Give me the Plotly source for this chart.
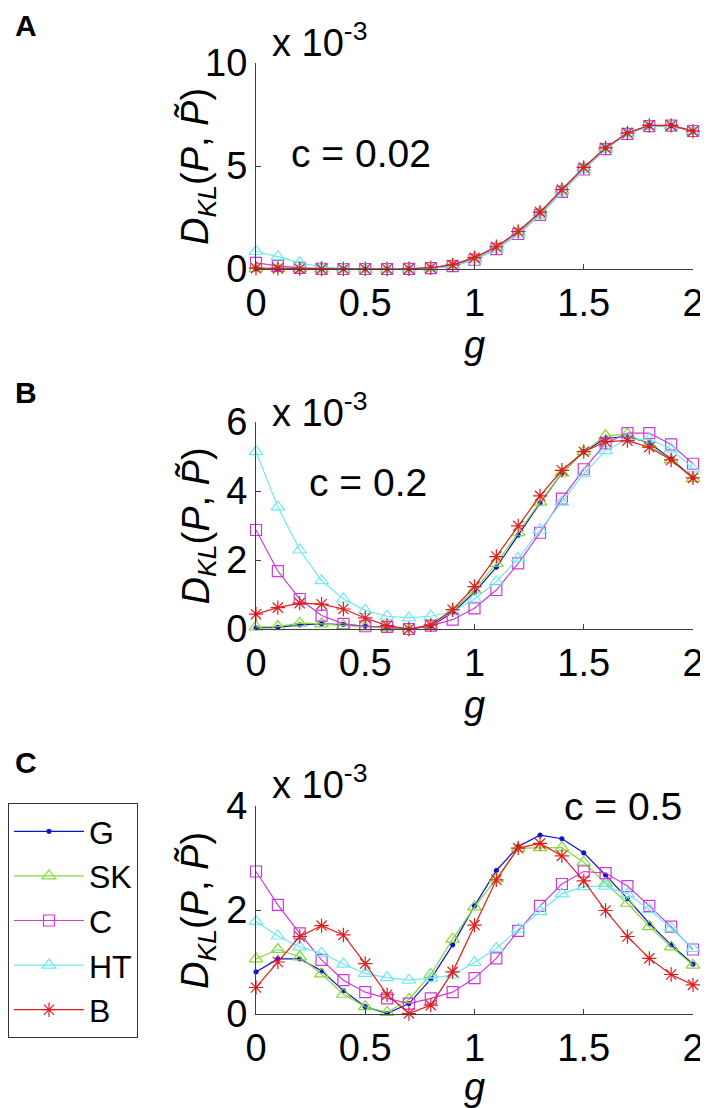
import plotly.graph_objects as go

# page is rendered with an 8px body margin, so the figure is offset by 8px
OFF = 8
W, H = 700, 1100
g = [round(0.1 * i, 1) for i in range(21)]

# Panel A (c = 0.02), values in units of 1e-3
A_G  = [0.02, 0.02, 0.01, 0.0, 0.0, 0.0, 0.0, 0.01, 0.06, 0.2, 0.54, 1.06, 1.8, 2.74, 3.85, 4.92, 5.88, 6.6, 6.96, 6.96, 6.69]
A_SK = [0.02, 0.02, 0.01, 0.0, 0.0, 0.0, 0.0, 0.01, 0.06, 0.2, 0.54, 1.06, 1.8, 2.74, 3.85, 4.92, 5.88, 6.6, 6.96, 6.96, 6.69]
A_C  = [0.3, 0.15, 0.05, 0.01, 0.0, 0.0, 0.0, 0.01, 0.04, 0.14, 0.45, 0.96, 1.7, 2.63, 3.74, 4.83, 5.82, 6.56, 6.94, 6.96, 6.7]
A_HT = [0.85, 0.6, 0.3, 0.1, 0.03, 0.01, 0.0, 0.01, 0.04, 0.14, 0.45, 0.96, 1.7, 2.63, 3.74, 4.83, 5.82, 6.56, 6.94, 6.96, 6.7]
A_B  = [0.04, 0.03, 0.01, 0.0, 0.0, 0.0, 0.0, 0.01, 0.06, 0.2, 0.55, 1.08, 1.82, 2.76, 3.86, 4.93, 5.88, 6.6, 6.97, 6.97, 6.69]

# Panel B (c = 0.2)
B_G  = [0.03, 0.05, 0.12, 0.15, 0.13, 0.08, 0.03, 0.0, 0.08, 0.48, 1.06, 1.79, 2.72, 3.65, 4.52, 5.14, 5.53, 5.58, 5.39, 4.93, 4.38]
B_SK = [0.06, 0.07, 0.17, 0.15, 0.1, 0.06, 0.03, 0.0, 0.1, 0.52, 1.13, 1.9, 2.79, 3.68, 4.52, 5.14, 5.6, 5.65, 5.35, 4.9, 4.36]
B_C  = [2.87, 1.68, 0.87, 0.39, 0.15, 0.08, 0.06, 0.0, 0.1, 0.27, 0.6, 1.13, 1.9, 2.79, 3.78, 4.63, 5.38, 5.68, 5.68, 5.35, 4.79]
B_HT = [5.14, 3.54, 2.29, 1.4, 0.87, 0.54, 0.37, 0.32, 0.37, 0.5, 0.87, 1.37, 2.05, 2.87, 3.68, 4.5, 5.17, 5.5, 5.5, 5.22, 4.64]
B_B  = [0.43, 0.62, 0.75, 0.72, 0.58, 0.32, 0.1, 0.0, 0.12, 0.56, 1.23, 2.1, 2.99, 3.86, 4.6, 5.14, 5.43, 5.46, 5.27, 4.9, 4.38]

# Panel C (c = 0.5)
C_G  = [0.81, 1.06, 1.06, 0.83, 0.45, 0.14, 0.01, 0.2, 0.67, 1.33, 2.08, 2.76, 3.22, 3.44, 3.37, 3.1, 2.67, 2.22, 1.74, 1.33, 0.96]
C_SK = [1.06, 1.24, 1.1, 0.77, 0.38, 0.14, 0.03, 0.28, 0.76, 1.44, 2.06, 2.6, 3.19, 3.2, 3.2, 2.92, 2.51, 2.13, 1.68, 1.29, 0.94]
C_C  = [2.74, 2.1, 1.55, 1.04, 0.65, 0.42, 0.3, 0.2, 0.3, 0.42, 0.69, 1.07, 1.6, 2.08, 2.5, 2.74, 2.71, 2.46, 2.08, 1.68, 1.24]
C_HT = [1.78, 1.5, 1.29, 1.17, 0.96, 0.78, 0.7, 0.65, 0.69, 0.75, 0.99, 1.26, 1.63, 1.97, 2.31, 2.45, 2.46, 2.31, 2.01, 1.65, 1.26]
C_B  = [0.51, 1.0, 1.49, 1.7, 1.52, 0.97, 0.37, 0.01, 0.17, 0.81, 1.71, 2.58, 3.19, 3.28, 3.04, 2.56, 1.99, 1.49, 1.07, 0.76, 0.56]

names = ["G", "SK", "C", "HT", "B"]
colors = ["#0b14cc", "#86d83a", "#cc3ad8", "#70e8f0", "#e01e1e"]
symbols = ["circle", "triangle-up-open", "square-open", "triangle-up-open", "asterisk-open"]
msizes = [4, 12, 11, 12, 12]

panels = [
    (A_G, A_SK, A_C, A_HT, A_B),
    (B_G, B_SK, B_C, B_HT, B_B),
    (C_G, C_SK, C_C, C_HT, C_B),
]
yranges = [[0, 10], [0, 6], [0, 4]]
ytickvals = [[0, 5, 10], [0, 2, 4, 6], [0, 2, 4]]
# axes boxes in page pixels (top, bottom)
boxes = [(63, 269), (422, 629), (806, 1014)]
xl, xr = 256, 693

def px(x):
    return (x - OFF) / W

def py(y):
    return 1 - (y - OFF) / H

FONT = "Liberation Sans, Arial, sans-serif"
FS = 38

fig = go.Figure()

for p, series in enumerate(panels):
    xa = "x" if p == 0 else f"x{p+1}"
    ya = "y" if p == 0 else f"y{p+1}"
    for i, vals in enumerate(series):
        fig.add_trace(go.Scatter(
            x=g, y=vals, mode="lines+markers", name=names[i],
            xaxis=xa, yaxis=ya,
            line=dict(color=colors[i], width=1.2),
            marker=dict(symbol=symbols[i], size=msizes[i], color=colors[i],
                        line=dict(color=colors[i], width=1.2)),
            cliponaxis=False,
            showlegend=(p == 2),
        ))

ytitle = "<i>D</i><sub><i>KL</i></sub>(<i>P</i>, <i>P\u0303</i>)"
axis_common = dict(
    showgrid=False, zeroline=False, showline=True, linecolor="#404040", linewidth=1,
    ticks="inside", ticklen=5, tickcolor="#404040", mirror=False, automargin=False,
    tickfont=dict(family=FONT, size=FS, color="black"),
)
layout = dict(
    width=W, height=H, margin=dict(l=0, r=0, t=0, b=0, autoexpand=False),
    paper_bgcolor="white", plot_bgcolor="white",
    font=dict(family=FONT, size=FS, color="black"),
    showlegend=True,
    legend=dict(x=px(8), y=py(803), xanchor="left", yanchor="top",
                bordercolor="#333333", borderwidth=1, bgcolor="white",
                font=dict(family=FONT, size=32), tracegroupgap=0,
                itemwidth=70, entrywidth=145, entrywidthmode="pixels"),
)
for p in range(3):
    top, bot = boxes[p]
    xk = "xaxis" if p == 0 else f"xaxis{p+1}"
    yk = "yaxis" if p == 0 else f"yaxis{p+1}"
    ya = "y" if p == 0 else f"y{p+1}"
    xa = "x" if p == 0 else f"x{p+1}"
    layout[xk] = dict(axis_common, domain=[px(xl), px(xr)], range=[0, 2], anchor=ya,
                      tickvals=[0, 0.5, 1, 1.5, 2], ticktext=["0", "0.5", "1", "1.5", "2"],
                      title=dict(text="<i>g</i>", font=dict(family=FONT, size=FS), standoff=0))
    layout[yk] = dict(axis_common, domain=[py(bot), py(top)], range=yranges[p], anchor=xa,
                      tickvals=ytickvals[p])
fig.update_layout(**layout)

ann = []
# y axis titles
for top, bot in boxes:
    ann.append(dict(text=ytitle, x=px(198), y=py((top + bot) / 2), xref="paper", yref="paper",
                    showarrow=False, textangle=-90, font=dict(family=FONT, size=FS),
                    xanchor="center", yanchor="middle"))
# panel letters
for lab, y in [("A", 25), ("B", 392), ("C", 762)]:
    ann.append(dict(text=f"<b>{lab}</b>", x=px(26), y=py(y), xref="paper", yref="paper",
                    showarrow=False, font=dict(family=FONT, size=30), xanchor="center", yanchor="middle"))
# exponent labels
for y in [40, 410, 782]:
    ann.append(dict(text="x 10<sup>-3</sup>", x=px(270), y=py(y), xref="paper", yref="paper",
                    showarrow=False, font=dict(family=FONT, size=FS), xanchor="left", yanchor="middle"))
# c labels
for txt, x, y in [("c = 0.02", 361, 154), ("c = 0.2", 368, 482), ("c = 0.5", 623, 806)]:
    ann.append(dict(text=txt, x=px(x), y=py(y), xref="paper", yref="paper",
                    showarrow=False, font=dict(family=FONT, size=39), xanchor="center", yanchor="middle"))
fig.update_layout(annotations=ann)

fig.write_html("out.html")
